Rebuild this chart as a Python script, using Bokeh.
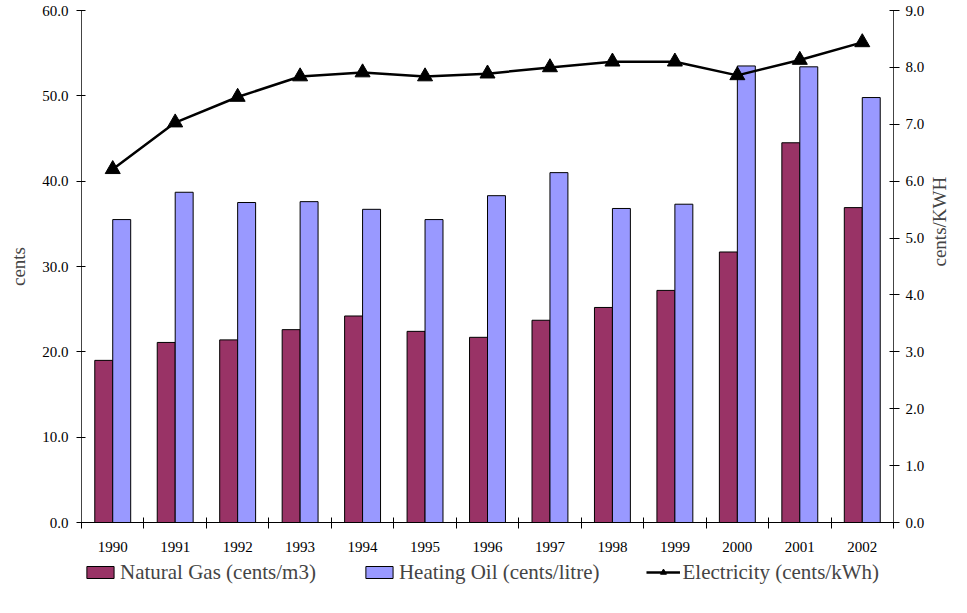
import math
from bokeh.plotting import figure
from bokeh.layouts import column
from bokeh.models import (ColumnDataSource, Range1d, LinearAxis, FixedTicker,
                          PrintfTickFormatter, Legend, LegendItem, SingleIntervalTicker)
from bokeh.transform import dodge
from bokeh.embed import file_html
from bokeh.resources import INLINE

years = ["1990", "1991", "1992", "1993", "1994", "1995", "1996",
         "1997", "1998", "1999", "2000", "2001", "2002"]
natural_gas = [19.0, 21.1, 21.4, 22.6, 24.2, 22.4, 21.7, 23.7, 25.2, 27.2, 31.7, 44.5, 36.9]
heating_oil = [35.5, 38.7, 37.5, 37.6, 36.7, 35.5, 38.3, 41.0, 36.8, 37.3, 53.5, 53.4, 49.8]
electricity = [6.21, 7.03, 7.48, 7.84, 7.91, 7.84, 7.89, 8.0, 8.1, 8.1, 7.86, 8.13, 8.44]
series_labels = ["Natural Gas (cents/m3)", "Heating Oil (cents/litre)", "Electricity (cents/kWh)"]

FONT = "Liberation Serif"
GAS_COLOR = "#993366"
OIL_COLOR = "#9999FF"
n = len(years)
xc = [i + 0.5 for i in range(n)]
src = ColumnDataSource(dict(x=xc, gas=natural_gas, oil=heating_oil, elec=electricity))

p = figure(frame_width=812, frame_height=512, output_backend="svg", toolbar_location=None,
           x_range=Range1d(0, n), y_range=Range1d(0, 60))
p.min_border_left = 81
p.min_border_right = 58
p.min_border_top = 10
p.min_border_bottom = 0
p.outline_line_color = None
p.xgrid.visible = False
p.ygrid.visible = False
p.extra_y_ranges = {"elec": Range1d(0, 9)}

bw = 0.2875
p.vbar(x=dodge("x", -bw / 2, range=p.x_range), top="gas", width=bw, source=src,
       fill_color=GAS_COLOR, line_color="black", line_width=1)
p.vbar(x=dodge("x", bw / 2, range=p.x_range), top="oil", width=bw, source=src,
       fill_color=OIL_COLOR, line_color="black", line_width=1)
p.line(x="x", y="elec", source=src, y_range_name="elec", line_color="black", line_width=2.5)
p.scatter(x="x", y="elec", source=src, y_range_name="elec", marker="triangle",
          size=15, fill_color="black", line_color="black")

# x axis: labels at category centres, tick marks between categories
xa = p.xaxis[0]
xa.ticker = FixedTicker(ticks=xc, minor_ticks=list(range(n + 1)))
xa.major_label_overrides = {x: y for x, y in zip(xc, years)}
xa.major_tick_in = 0
xa.major_tick_out = 0
xa.minor_tick_in = 5
xa.minor_tick_out = 6
xa.minor_tick_line_color = "black"
xa.axis_line_color = "black"
xa.major_label_standoff = 13
xa.major_label_text_font = FONT
xa.major_label_text_font_size = "15px"
xa.major_label_text_color = "black"

ya = p.yaxis[0]
ya.ticker = SingleIntervalTicker(interval=10, num_minor_ticks=0)
ya.formatter = PrintfTickFormatter(format="%.1f")
ya.major_tick_in = 4
ya.major_tick_out = 5
ya.minor_tick_in = 0
ya.minor_tick_out = 0
ya.axis_label = "cents"
ya.axis_label_text_font = FONT
ya.axis_label_text_font_style = "normal"
ya.axis_label_text_font_size = "19px"
ya.axis_label_standoff = 10
ya.major_label_text_font = FONT
ya.major_label_text_font_size = "15px"
ya.major_label_text_color = "black"
ya.major_label_standoff = 8
ya.axis_line_color = "#444444"

ra = LinearAxis(y_range_name="elec", ticker=SingleIntervalTicker(interval=1, num_minor_ticks=0),
                formatter=PrintfTickFormatter(format="%.1f"))
ra.major_tick_in = 4
ra.major_tick_out = 6
ra.minor_tick_in = 0
ra.minor_tick_out = 0
ra.axis_label = "cents/KWH"
ra.axis_label_orientation = math.pi / 2
ra.axis_label_text_font = FONT
ra.axis_label_text_font_style = "normal"
ra.axis_label_text_font_size = "19px"
ra.axis_label_standoff = 12
ra.major_label_text_font = FONT
ra.major_label_text_font_size = "15px"
ra.major_label_text_color = "black"
ra.major_label_standoff = 6
ra.axis_line_color = "#444444"
p.add_layout(ra, "right")

# legend strip below the chart (its renderers use the same data, drawn below the visible range)
lg = figure(width=p.min_border_left + 812 + p.min_border_right, height=36,
            output_backend="svg", toolbar_location=None,
            x_axis_location=None, y_axis_location=None,
            x_range=Range1d(0, n), y_range=Range1d(100, 200),
            min_border_left=0, min_border_right=0, min_border_top=0, min_border_bottom=0)
lg.grid.visible = False
lg.outline_line_color = None
l_gas = lg.vbar(x="x", top="gas", width=bw, source=src,
                fill_color=GAS_COLOR, line_color="black", line_width=1)
l_oil = lg.vbar(x="x", top="oil", width=bw, source=src,
                fill_color=OIL_COLOR, line_color="black", line_width=1)
l_line = lg.line(x="x", y="elec", source=src, line_color="black", line_width=2.5)
l_mark = lg.scatter(x="x", y="elec", source=src, marker="triangle", size=15,
                    fill_color="black", line_color="black")

legend = Legend(items=[
    LegendItem(label=series_labels[0], renderers=[l_gas]),
    LegendItem(label=series_labels[1], renderers=[l_oil]),
    LegendItem(label=series_labels[2], renderers=[l_line, l_mark]),
], orientation="horizontal", location="center")
legend.border_line_color = None
legend.background_fill_alpha = 0
legend.label_text_font = FONT
legend.label_text_font_size = "21px"
legend.glyph_width = 34
legend.glyph_height = 15
legend.label_standoff = 3
legend.spacing = 46
legend.padding = 1
legend.margin = 0
lg.add_layout(legend, "center")

layout = column(p, lg, spacing=0)
open("out.html", "w").write(file_html(layout, INLINE))
